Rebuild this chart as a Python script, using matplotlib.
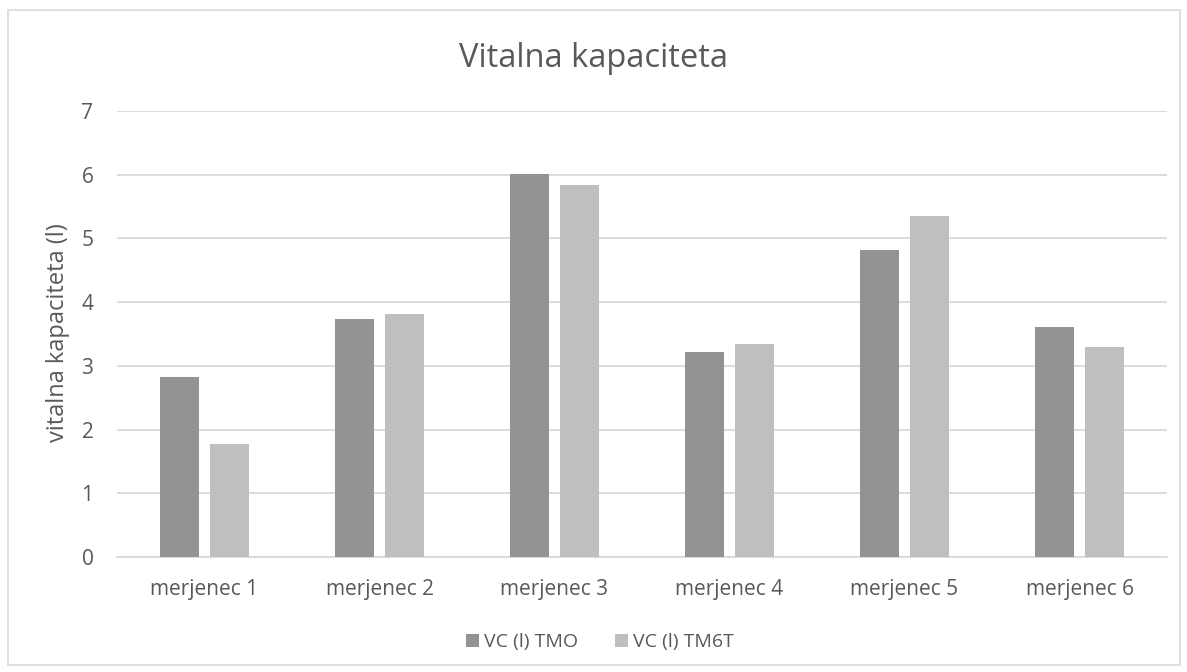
import matplotlib
matplotlib.use("Agg")
import matplotlib.pyplot as plt
import numpy as np
from matplotlib.patches import Rectangle

# Data
categories = ["merjenec 1", "merjenec 2", "merjenec 3", "merjenec 4", "merjenec 5", "merjenec 6"]
vc_tmo = [2.82, 3.74, 6.01, 3.21, 4.82, 3.61]
vc_tm6t = [1.78, 3.81, 5.84, 3.34, 5.35, 3.29]
series_names = ["VC (l) TMO", "VC (l) TM6T"]
y_ticks = [0, 1, 2, 3, 4, 5, 6, 7]

plt.rcParams["font.family"] = ["Open Sans", "DejaVu Sans"]
text_color = "#595959"
grid_color = "#d9d9d9"
dark = "#939393"
light = "#bfbfbf"

W, H = 1187, 672
fig = plt.figure(figsize=(W / 100, H / 100), dpi=100)
ax = fig.add_axes([117 / W, 1 - 557 / H, 1050 / W, 446 / H])

x = np.arange(len(categories))
width = 0.225
offset = 0.143
ax.bar(x - offset, vc_tmo, width, color=dark, label=series_names[0], zorder=3)
ax.bar(x + offset, vc_tm6t, width, color=light, label=series_names[1], zorder=3)

ax.set_xlim(-0.5, len(categories) - 0.5)
ax.set_ylim(0, 7)
ax.set_yticks(y_ticks)
ax.set_xticks(x)
ax.set_xticklabels(categories)
ax.yaxis.grid(True, color=grid_color, linewidth=1.3, zorder=0)
ax.set_axisbelow(True)
for side in ["top", "right", "left"]:
    ax.spines[side].set_visible(False)
ax.spines["bottom"].set_color(grid_color)
ax.spines["bottom"].set_linewidth(1.3)
ax.tick_params(axis="both", length=0, labelsize=15, labelcolor=text_color)
ax.tick_params(axis="y", pad=17)
ax.tick_params(axis="x", pad=16)

# Axis title
fig.text(58 / W, 1 - 333 / H, "vitalna kapaciteta (l)", rotation=90,
         ha="center", va="center", fontsize=17, color=text_color)

# Chart title
fig.text(0.5, 1 - 67 / H, "Vitalna kapaciteta", ha="center", va="baseline",
         fontsize=23.5, color=text_color)

leg = fig.legend(loc="center", bbox_to_anchor=(600 / W, 1 - 642 / H), ncol=2,
                 frameon=False, fontsize=14, handlelength=0.67, handleheight=0.67,
                 handletextpad=0.26, columnspacing=1.9, labelcolor=text_color,
                 borderpad=0, borderaxespad=0)

# Chart border
fig.patches.append(Rectangle((8 / W, 1 - 665 / H), 1172 / W, 655 / H,
                             transform=fig.transFigure, fill=False,
                             edgecolor=grid_color, linewidth=1.2))

fig.savefig("out.png", dpi=100, facecolor="white")
